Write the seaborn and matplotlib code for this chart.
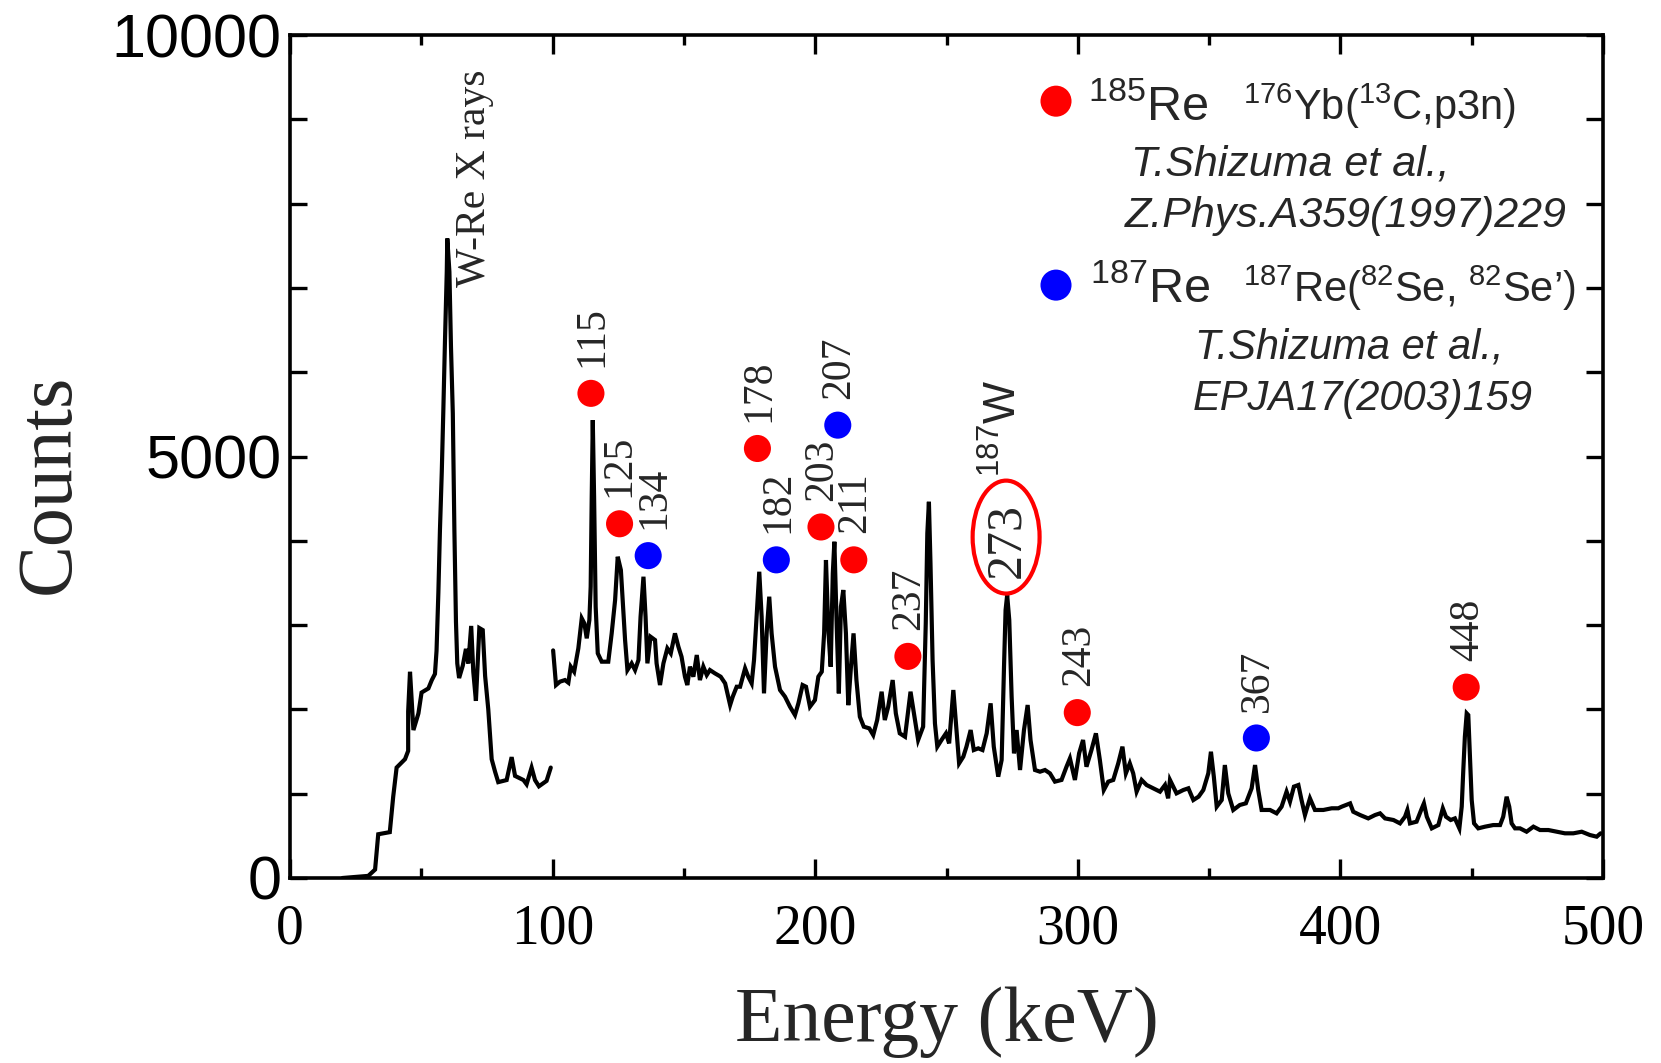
import matplotlib
matplotlib.use("Agg")
import matplotlib.pyplot as plt
import seaborn as sns
import pandas as pd
from matplotlib.patches import Ellipse

# Low-energy part of the gamma spectrum (keV, counts)
low_energy = [20.0, 29.8, 32.4, 33.6, 38.0, 39.3, 40.6, 43.8, 45.0, 45.0, 45.7, 47.0, 48.9,
              50.1, 52.7, 54.0, 55.2, 55.8, 56.5, 57.1, 57.8, 58.4, 59.0, 59.7, 59.9, 60.7,
              61.3, 62.0, 62.6, 63.2, 63.7, 64.4, 65.8, 67.0, 67.9, 69.0, 69.8, 70.8, 72.1,
              73.4, 74.3, 75.5, 76.8, 78.1, 79.3, 82.5, 84.4, 85.7, 88.9, 90.1, 92.0, 93.3,
              94.8, 97.7, 99.3]
low_counts = [0, 25, 100, 519, 544, 964, 1310, 1410, 1508, 1977, 2446, 1755, 1952,
              2200, 2249, 2348, 2421, 2694, 3385, 4127, 4819, 5560, 6351, 7191, 7586, 7191,
              6301, 5511, 4127, 3040, 2545, 2372, 2520, 2718, 2545, 2990, 2446, 2101, 2965,
              2941, 2397, 2002, 1409, 1260, 1137, 1162, 1434, 1211, 1162, 1112, 1310, 1162,
              1088, 1152, 1310]

# High-energy part of the gamma spectrum (keV, counts)
high_energy = [100.2, 101.3, 102.8, 104.7, 106.0, 106.9, 108.2, 109.8, 111.1, 112.1, 113.0,
               114.0, 114.5, 114.9, 115.3, 115.8, 116.4, 117.2, 118.7, 121.2, 122.5, 123.8,
               124.8, 126.0, 126.7, 127.6, 128.5, 130.1, 131.4, 132.7, 133.5, 134.6, 135.4,
               136.1, 137.3, 139.0, 139.6, 140.9, 142.2, 143.7, 145.0, 146.6, 147.9, 149.1,
               150.4, 151.3, 152.3, 153.6, 154.9, 156.1, 157.4, 158.7, 159.9, 161.8, 164.0,
               165.7, 167.6, 168.6, 170.1, 171.4, 173.3, 174.5, 175.8, 176.7, 177.7, 178.7,
               179.6, 180.5, 181.5, 182.5, 183.4, 184.7, 186.6, 188.5, 190.4, 192.3, 193.6,
               195.2, 196.5, 198.0, 199.9, 201.2, 202.5, 203.4, 204.1, 205.0, 205.9, 206.7,
               207.3, 208.2, 209.0, 209.8, 210.7, 211.7, 212.6, 213.6, 214.6, 215.7, 217.0,
               218.5, 220.6, 222.1, 223.6, 225.3, 226.5, 227.8, 229.5, 230.7, 232.2, 234.2,
               236.3, 237.6, 239.2, 241.1, 242.1, 242.7, 243.3, 243.9, 244.7, 245.6, 246.5,
               248.1, 249.8, 251.0, 252.6, 253.6, 254.8, 256.4, 257.6, 259.2, 260.4, 262.1,
               263.7, 265.3, 266.8, 268.0, 269.7, 271.0, 271.9, 272.5, 273.1, 273.9, 274.8,
               275.7, 276.7, 278.0, 279.5, 280.9, 282.0, 283.7, 285.6, 287.5, 289.4, 291.3,
               293.8, 295.7, 297.0, 298.9, 300.5, 302.0, 303.3, 305.2, 306.9, 308.4, 309.9,
               311.6, 313.5, 315.4, 317.0, 318.3, 319.8, 321.1, 322.4, 324.3, 326.2, 328.7,
               331.3, 333.2, 334.4, 335.1, 337.6, 340.2, 342.1, 344.0, 346.0, 347.8, 349.7,
               350.7, 351.8, 352.9, 354.8, 356.0, 357.3, 359.2, 361.7, 364.0, 366.2, 367.5,
               368.7, 370.0, 373.2, 375.7, 377.6, 379.5, 380.8, 382.3, 384.0, 385.2, 386.5,
               388.4, 390.3, 393.5, 396.7, 399.2, 400.5, 403.7, 404.9, 407.5, 410.6, 413.2,
               415.1, 417.0, 420.2, 422.7, 424.6, 425.5, 426.5, 429.0, 431.0, 431.8, 432.9,
               434.8, 437.3, 439.0, 440.2, 442.0, 443.6, 445.3, 446.2, 446.8, 447.4, 448.1,
               448.7, 449.3, 450.0, 450.9, 452.5, 455.1, 458.2, 460.8, 462.0, 463.3, 464.3,
               465.2, 466.5, 468.4, 470.9, 473.5, 476.0, 479.2, 482.4, 485.5, 488.7, 491.9,
               495.0, 497.6, 499.1]
high_counts = [2700, 2289, 2329, 2348, 2317, 2507, 2447, 2724, 3080, 3020, 2843,
               3060, 3455, 4523, 5432, 4523, 3218, 2665, 2566, 2566, 2902, 3297,
               3811, 3653, 3297, 2823, 2467, 2546, 2467, 2586, 3100, 3574, 3100,
               2546, 2862, 2823, 2546, 2289, 2546, 2724, 2665, 2902, 2744, 2625,
               2388, 2289, 2507, 2388, 2645, 2348, 2507, 2408, 2467, 2428, 2388,
               2309, 2052, 2151, 2269, 2269, 2487, 2388, 2309, 2586, 3100, 3633,
               3100, 2190, 2902, 3337, 2902, 2507, 2230, 2151, 2032, 1933, 2072,
               2289, 2269, 2032, 2111, 2388, 2447, 2902, 3772, 2941, 2507, 3613,
               3989, 2981, 2190, 3218, 3416, 2902, 2050, 2500, 2902, 2348, 1913,
               1795, 1775, 1696, 1874, 2210, 1874, 2032, 2348, 1953, 1716, 1676,
               2210, 1953, 1637, 1795, 3020, 4088, 4463, 3732, 2585, 1834, 1558,
               1637, 1716, 1597, 2230, 1834, 1360, 1439, 1558, 1755, 1518, 1538,
               1518, 1716, 2072, 1558, 1202, 1400, 2506, 3178, 3356, 3060, 2151,
               1479, 1755, 1281, 1755, 2052, 1637, 1281, 1261, 1281, 1241, 1143,
               1163, 1320, 1419, 1163, 1479, 1637, 1320, 1518, 1716, 1400, 1044,
               1143, 1163, 1360, 1558, 1241, 1360, 1241, 1024, 1163, 1103, 1064,
               1024, 1103, 945, 1163, 1004, 1044, 1064, 925, 965, 1044, 1242,
               1498, 1202, 846, 925, 1340, 1004, 807, 866, 886, 1064, 1340,
               1044, 807, 807, 767, 846, 1024, 906, 1084, 1103, 925, 747,
               945, 807, 807, 827, 827, 846, 885, 786, 747, 707, 747,
               767, 707, 688, 648, 727, 806, 648, 668, 826, 885, 727,
               589, 628, 826, 727, 688, 707, 589, 846, 1280, 1676, 1953,
               1933, 1478, 925, 648, 589, 609, 628, 628, 727, 964, 846,
               648, 589, 589, 549, 609, 569, 569, 549, 530, 530, 549,
               510, 490, 530]

# Identified transitions: marker position, label, nucleus
peak_energy = [114.6, 125.5, 178.0, 202.2, 214.7, 235.3, 299.8, 447.9,
               136.4, 185.2, 208.6, 368.0]
peak_counts = [5749, 4202, 5095, 4164, 3774, 2629, 1962, 2264,
               3824, 3774, 5372, 1661]
peak_labels = ["115", "125", "178", "203", "211", "237", "243", "448",
               "134", "182", "207", "367"]
peak_nucleus = ["185Re"] * 8 + ["187Re"] * 4

nucleus_colors = {"185Re": "#ff0000", "187Re": "#0000ff"}

x_ticks = [0, 100, 200, 300, 400, 500]
x_tick_labels = ["0", "100", "200", "300", "400", "500"]
y_ticks = list(range(0, 10001, 1000))
y_tick_labels = ["0", "", "", "", "", "5000", "", "", "", "", "10000"]

sns.set_style("ticks")
plt.rcParams["font.family"] = ["Liberation Sans", "DejaVu Sans"]
plt.rcParams["mathtext.fontset"] = "custom"
plt.rcParams["mathtext.rm"] = "Liberation Sans"
plt.rcParams["mathtext.it"] = "Liberation Sans:italic"
plt.rcParams["mathtext.bf"] = "Liberation Sans:bold"

W, H = 1661, 1063
fig = plt.figure(figsize=(W / 100, H / 100), dpi=100)
fig.patch.set_facecolor("white")
ax = fig.add_axes([290 / W, (H - 878) / H, 1313 / W, 843 / H])
ax.set_facecolor("white")

# spectrum (two separately recorded ranges)
sns.lineplot(x=low_energy, y=low_counts, ax=ax, color="black",
             estimator=None, sort=False)
sns.lineplot(x=high_energy, y=high_counts, ax=ax, color="black",
             estimator=None, sort=False)
for ln in ax.lines:
    ln.set_linewidth(3.0)
    ln.set_solid_joinstyle("miter")

# transition markers
peaks = pd.DataFrame({"energy": peak_energy, "counts": peak_counts,
                      "nucleus": peak_nucleus, "label": peak_labels})
sns.scatterplot(data=peaks, x="energy", y="counts", hue="nucleus",
                palette=nucleus_colors, s=380, linewidth=0, legend=False,
                ax=ax, zorder=5)
label_dx = {"125": -1, "134": 3}
for e, c, lab in zip(peak_energy, peak_counts, peak_labels):
    ax.annotate(lab, (e, c), xytext=(1 + label_dx.get(lab, 0), 19),
                textcoords="offset points", rotation=90, ha="center",
                va="bottom", fontsize=30, fontfamily="Liberation Serif")

# 273 keV line of 187W
ax.add_patch(Ellipse((272.7, 4044), width=25.5, height=1340, fill=False,
                     edgecolor="#ff0000", lw=3.0, zorder=6))
ax.text(272.9, 4009, "273", rotation=90, ha="center", va="center",
        fontsize=36, fontfamily="Liberation Serif")
ax.text(272.1, 5337, r"$^{187}$W", rotation=90, ha="center", va="center",
        fontsize=32)

ax.text(70.4, 7009, "W-Re X rays", rotation=90, ha="center", va="bottom",
        fontsize=30, fontfamily="Liberation Serif")

# key for the two nuclei
key = pd.DataFrame({"energy": [291.7, 291.7], "counts": [9215, 7033],
                    "nucleus": ["185Re", "187Re"]})
sns.scatterplot(data=key, x="energy", y="counts", hue="nucleus",
                palette=nucleus_colors, s=500, linewidth=0, legend=False,
                ax=ax, zorder=5)
ax.text(303.9, 8990, r"$^{185}$Re", fontsize=35, va="baseline")
ax.text(362.9, 8990, r"$^{176}$Yb($^{13}$C,p3n)", fontsize=30, va="baseline")
ax.text(320.3, 8338, "T.Shizuma et al.,", fontsize=31, style="italic",
        va="baseline")
ax.text(318.0, 7721, "Z.Phys.A359(1997)229", fontsize=31, style="italic",
        va="baseline")
ax.text(304.6, 6831, r"$^{187}$Re", fontsize=35, va="baseline")
ax.text(362.9, 6831, r"$^{187}$Re($^{82}$Se, $^{82}$Se’)", fontsize=30,
        va="baseline")
ax.text(344.6, 6167, "T.Shizuma et al.,", fontsize=30, style="italic",
        va="baseline")
ax.text(343.9, 5550, "EPJA17(2003)159", fontsize=30, style="italic",
        va="baseline")

# axes
ax.set_xlim(0, 500)
ax.set_ylim(0, 10000)
ax.set_xticks(x_ticks)
ax.set_xticklabels(x_tick_labels, fontfamily="Liberation Serif", fontsize=40)
ax.set_xticks([50, 150, 250, 350, 450], minor=True)
ax.set_yticks(y_ticks)
ax.set_yticklabels(y_tick_labels, fontfamily="Liberation Sans", fontsize=44)
ax.tick_params(which="both", direction="in", top=True, right=True,
               width=2.4, color="black", labelcolor="black")
ax.tick_params(axis="x", which="major", length=13.5, pad=18)
ax.tick_params(axis="x", which="minor", length=7.5)
ax.tick_params(axis="y", which="major", length=12, pad=6)
for sp in ax.spines.values():
    sp.set_linewidth(2.6)
    sp.set_color("black")
    sp.set_visible(True)

ax.set_xlabel("Energy (keV)", fontsize=56, fontfamily="Liberation Serif")
ax.xaxis.set_label_coords(0.5004, -0.171)
ax.xaxis.label.set_va("center")
ax.set_ylabel("Counts", fontsize=56, fontfamily="Liberation Serif")
ax.yaxis.set_label_coords(-0.183, 0.467)
ax.yaxis.label.set_va("center")

fig.savefig("out.png", dpi=100, facecolor="white")
